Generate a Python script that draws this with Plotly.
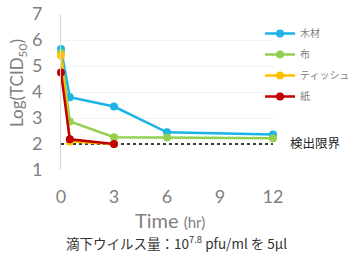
import plotly.graph_objects as go

series_names = ["木材", "布", "ティッシュ", "紙"]
x_wood = [0, 0.5, 3, 6, 12]
y_wood = [5.65, 3.8, 3.44, 2.45, 2.37]
x_cloth = [0, 0.5, 3, 6, 12]
y_cloth = [5.5, 2.87, 2.26, 2.25, 2.22]
x_tissue = [0, 0.5, 3]
y_tissue = [5.4, 2.1, 2.0]
x_paper = [0, 0.5, 3]
y_paper = [4.75, 2.18, 2.0]
colors = ["#1cb4e6", "#92d050", "#ffc000", "#c00000"]
limit_x = [0, 12]
limit_y = [2, 2]

fig = go.Figure()
fig.add_trace(go.Scatter(x=limit_x, y=limit_y, mode="lines", showlegend=False,
                         line=dict(color="black", width=1.5, dash="dot"),
                         hoverinfo="skip", cliponaxis=False))
for name, xs, ys, c in zip(series_names,
                           [x_wood, x_cloth, x_tissue, x_paper],
                           [y_wood, y_cloth, y_tissue, y_paper], colors):
    fig.add_trace(go.Scatter(x=xs, y=ys, name=name, legendgroup=name,
                             mode="lines+markers",
                             line=dict(color=c, width=2.5),
                             marker=dict(color=c, size=8),
                             cliponaxis=False))

gray = "#7f7f7f"
latin = "Lato, Noto Sans, sans-serif"
fig.update_layout(
    width=355, height=260,
    margin=dict(l=61, r=82, t=14, b=90, autoexpand=False),
    plot_bgcolor="white", paper_bgcolor="white",
    font=dict(family="Noto Sans CJK JP, sans-serif", color=gray),
    legend=dict(x=1.387, y=0.968, xanchor="right", yanchor="top",
                font=dict(size=10, color=gray), tracegroupgap=2,
                itemwidth=30, bgcolor="rgba(0,0,0,0)"),
    xaxis=dict(range=[0, 12], tickvals=[0, 3, 6, 9, 12], showgrid=False,
               zeroline=False, showline=False, ticks="", ticklabelstandoff=14,
               tickfont=dict(size=18, color=gray, family=latin)),
    yaxis=dict(range=[1, 7], dtick=1, showgrid=True, gridcolor="#f2f2f2",
               zeroline=False, showline=True, linecolor="#d9d9d9", ticks="",
               ticklabelstandoff=14,
               tickfont=dict(size=18, color=gray, family=latin)),
)
fig.add_annotation(text="Log(TCID<sub>50</sub>)", xref="paper", yref="paper",
                   x=-0.2, y=0.555, textangle=-90, showarrow=False,
                   xanchor="center", yanchor="middle",
                   font=dict(size=17, color=gray, family=latin))
fig.add_annotation(text="Time <span style='font-size:15px'>(hr)</span>",
                   xref="paper", yref="paper", x=0.515, y=-0.32, showarrow=False,
                   xanchor="center", yanchor="middle",
                   font=dict(size=20, color=gray, family=latin))
fig.add_annotation(text="滴下ウイルス量：10<sup>7.8</sup> pfu/ml を 5μl",
                   xref="paper", yref="paper", x=0.547, y=-0.462, showarrow=False,
                   xanchor="center", yanchor="middle",
                   font=dict(size=13.5, color="#333333"))
fig.add_annotation(text="検出限界", xref="paper", yref="y", x=1.07, y=2.07,
                   xanchor="left", yanchor="middle", showarrow=False,
                   font=dict(size=12.5, color="#262626"))
fig.write_html("out.html", config={"displayModeBar": False},
               post_script="document.body.style.margin='0px';")
